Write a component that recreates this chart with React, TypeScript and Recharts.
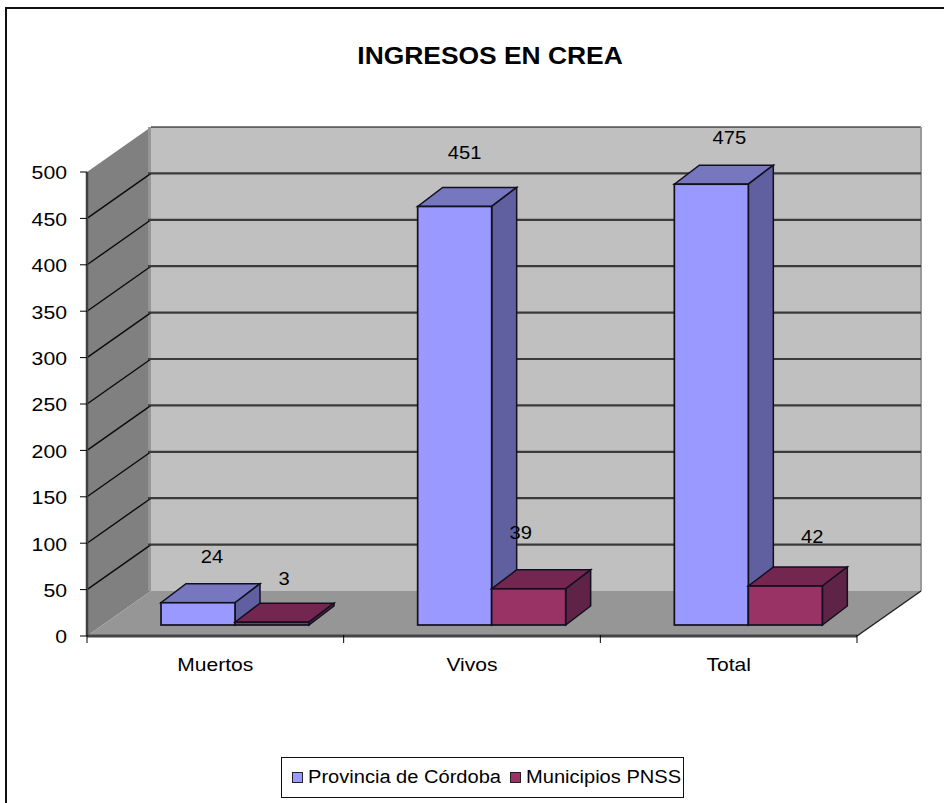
import React from "react";
import { BarChart, Bar, XAxis, YAxis, CartesianGrid, Legend, LabelList } from "recharts";

const categories = ["Muertos", "Vivos", "Total"];
const provinciaValues = [24, 451, 475];
const municipiosValues = [3, 39, 42];
const yTicks = [0, 50, 100, 150, 200, 250, 300, 350, 400, 450, 500];
const titleText = "INGRESOS EN CREA";
const seriesNames = ["Provincia de Córdoba", "Municipios PNSS"];

const data = categories.map((name, i) => ({
  name,
  provincia: provinciaValues[i],
  municipios: municipiosValues[i],
}));

const FONT = "'Liberation Sans', Arial, sans-serif";
const WALL_DX = 64;
const WALL_DY = -45;
const BAR_DX = 20;
const BAR_DY = -11;
const BAR_DEPTH_X = 25;
const BAR_DEPTH_Y = -19;

const provinciaNudge = [[14, -46], [10, -54], [18, -46]];
const municipiosNudge = [[12, -43], [-8, -56], [27, -49]];

function pts(list: number[][]) {
  return list.map((p) => p.join(",")).join(" ");
}

function Stretched(p: any) {
  const { x, y, sx = 1.15, anchor = "middle", size = 18, bold, children } = p;
  return (
    <text
      transform={`translate(${x},${y}) scale(${sx},1)`}
      textAnchor={anchor}
      dominantBaseline="central"
      fontFamily={FONT}
      fontSize={size}
      fontWeight={bold ? "bold" : "normal"}
      fill="#000"
    >
      {children}
    </text>
  );
}

function GridRow(p: any) {
  const { x1, x2, y1, index } = p;
  const top = p.y;
  const bottom = p.y + p.height;
  const bx1 = x1 + WALL_DX;
  const bx2 = x2 + WALL_DX;
  const isTop = y1 <= top + 0.5;
  const isBottom = y1 >= bottom - 0.5;
  return (
    <g>
      {index === 0 && (
        <g>
          <polygon points={pts([[bx1, top + WALL_DY], [bx2, top + WALL_DY], [bx2, bottom + WALL_DY], [bx1, bottom + WALL_DY]])} fill="#c0c0c0" />
          <polygon points={pts([[x1, top], [bx1, top + WALL_DY], [bx1, bottom + WALL_DY], [x1, bottom]])} fill="#808080" />
          <polygon points={pts([[x1, bottom], [x2, bottom], [bx2, bottom + WALL_DY], [bx1, bottom + WALL_DY]])} fill="#969696" />
          <rect x={bx1 - 3} y={top + WALL_DY} width={3} height={bottom - top} fill="#969696" />
          <line x1={bx1} x2={bx2} y1={top + WALL_DY} y2={top + WALL_DY} stroke="#000" strokeWidth={1.2} />
          <line x1={bx2} x2={bx2} y1={top + WALL_DY} y2={bottom + WALL_DY} stroke="#999" strokeWidth={2} />
          <line x1={x2} x2={bx2} y1={bottom} y2={bottom + WALL_DY} stroke="#222" strokeWidth={1.5} />
          <line x1={x1} x2={x2} y1={bottom} y2={bottom} stroke="#444" strokeWidth={3} />
        </g>
      )}
      {!isTop && !isBottom && <line x1={x1} y1={y1} x2={bx1} y2={y1 + WALL_DY} stroke="#0a0a0a" strokeWidth={1.4} />}
      {!isBottom && !isTop && <line x1={bx1 - 3} x2={bx2} y1={y1 + WALL_DY} y2={y1 + WALL_DY} stroke="#3a3a3a" strokeWidth={2.2} />}
    </g>
  );
}

function Box3D(p: any) {
  const { x, y, width, height, fill, topFill, sideFill } = p;
  if (height == null) return null;
  const fx = x + BAR_DX;
  const fy = y + BAR_DY;
  const fr = fx + width;
  const fb = fy + height;
  const s = "#12101e";
  return (
    <g>
      <polygon points={pts([[fx, fy], [fr, fy], [fr + BAR_DEPTH_X, fy + BAR_DEPTH_Y], [fx + BAR_DEPTH_X, fy + BAR_DEPTH_Y]])} fill={topFill} stroke={s} strokeWidth={1.5} />
      <polygon points={pts([[fr, fy], [fr + BAR_DEPTH_X, fy + BAR_DEPTH_Y], [fr + BAR_DEPTH_X, fb + BAR_DEPTH_Y], [fr, fb]])} fill={sideFill} stroke={s} strokeWidth={1.5} />
      <rect x={fx} y={fy} width={width} height={height} fill={fill} stroke={s} strokeWidth={1.7} />
    </g>
  );
}

function makeLabel(nudge: number[][]) {
  return function ValueLabel(p: any) {
    const { x, y, width, value, index } = p;
    const [dx, dy] = nudge[index];
    return (
      <Stretched x={x + BAR_DX + width / 2 + dx} y={y + BAR_DY + dy} sx={1.12}>
        {value}
      </Stretched>
    );
  };
}

function XTick(p: any) {
  const { x, y, payload, index } = p;
  const band = 770 / 3;
  const left = x - band / 2;
  return (
    <g>
      <line x1={left} x2={left} y1={y - 9} y2={y - 1} stroke="#000" />
      {index === categories.length - 1 && <line x1={left + band} x2={left + band} y1={y - 9} y2={y - 1} stroke="#000" />}
      <Stretched x={x} y={y + 21} sx={1.17}>
        {payload.value}
      </Stretched>
    </g>
  );
}

function YTick(p: any) {
  const { x, y, payload } = p;
  return (
    <Stretched x={x} y={y + 1} anchor="end" sx={1.18}>
      {payload.value}
    </Stretched>
  );
}

function LegendBox(props: any) {
  const items = props.payload || [];
  const squareLeft = [10, 228];
  return (
    <div
      style={{
        position: "relative",
        boxSizing: "border-box",
        width: 403,
        height: 41,
        border: "1.5px solid #111",
        background: "#fff",
        fontFamily: FONT,
        fontSize: 18,
        color: "#000",
        whiteSpace: "nowrap",
      }}
    >
      {items.map((it: any, i: number) => (
        <React.Fragment key={i}>
          <span
            style={{
              position: "absolute",
              left: squareLeft[i],
              top: 14,
              boxSizing: "border-box",
              width: 11,
              height: 11,
              background: it.color,
              border: "1.5px solid #222",
            }}
          />
          <span
            style={{
              position: "absolute",
              left: squareLeft[i] + 15.5,
              top: 9,
              lineHeight: "21px",
              transform: "scaleX(1.115)",
              transformOrigin: "left center",
            }}
          >
            {it.value}
          </span>
        </React.Fragment>
      ))}
    </div>
  );
}

export default function App() {
  return (
    <div style={{ position: "absolute", left: 0, top: 0, width: 944, height: 803, overflow: "hidden", background: "#fff" }}>
      <BarChart
        width={944}
        height={803}
        data={data}
        barSize={74}
        barGap={0}
        margin={{ top: 172, right: 87, bottom: 137, left: 0 }}
        style={{ position: "absolute", left: 0, top: 0 }}
      >
        <Stretched x={490} y={55} sx={1.1} size={24} bold>
          {titleText}
        </Stretched>
        <CartesianGrid horizontal={(p: any) => <GridRow key={p.key} {...p} />} vertical={false} />
        <XAxis dataKey="name" height={30} interval={0} tickLine={false} axisLine={false} tick={<XTick />} />
        <YAxis
          width={87}
          domain={[0, 500]}
          ticks={yTicks}
          interval={0}
          tickSize={7}
          tickMargin={13}
          axisLine={{ stroke: "#404040", strokeWidth: 2.5 }}
          tickLine={{ stroke: "#000" }}
          tick={<YTick />}
        />
        <Legend
          layout="vertical"
          align="center"
          verticalAlign="middle"
          itemSorter={null}
          content={<LegendBox />}
          wrapperStyle={{ position: "absolute", left: 281, top: 757, width: 403, height: 41, right: "auto", bottom: "auto" }}
        />
        <Bar dataKey="provincia" name={seriesNames[0]} fill="#9999ff" isAnimationActive={false} shape={(p: any) => <Box3D {...p} topFill="#7777c0" sideFill="#6060a0" />}>
          <LabelList dataKey="provincia" content={makeLabel(provinciaNudge)} />
        </Bar>
        <Bar dataKey="municipios" name={seriesNames[1]} fill="#993366" isAnimationActive={false} shape={(p: any) => <Box3D {...p} topFill="#732650" sideFill="#5f2347" />}>
          <LabelList dataKey="municipios" content={makeLabel(municipiosNudge)} />
        </Bar>
      </BarChart>
      <div style={{ position: "absolute", left: 5, top: 7, width: 960, height: 820, borderLeft: "2px solid #111", borderTop: "2px solid #111", boxSizing: "border-box", pointerEvents: "none" }} />
    </div>
  );
}
